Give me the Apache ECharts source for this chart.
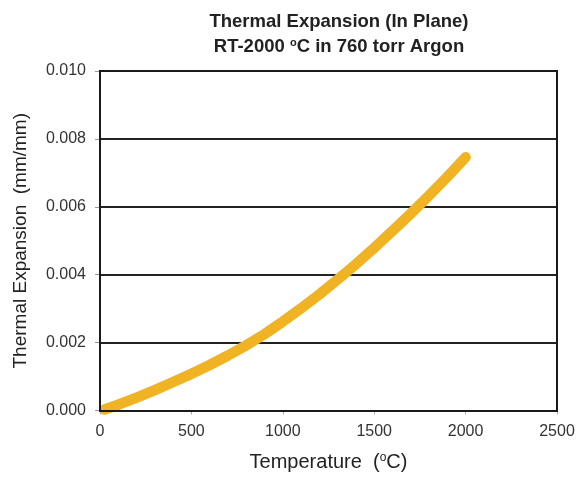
<!DOCTYPE html>
<html><head><meta charset="utf-8">
<script src="https://cdn.jsdelivr.net/npm/echarts@6/dist/echarts.min.js"></script>
<style>html,body{margin:0;padding:0;background:#fff}#c{width:587px;height:477px}</style>
</head><body><div id="c"></div>
<script>
const temps = [25, 100, 200, 300, 400, 500, 600, 700, 800, 900, 1000, 1100, 1200, 1300, 1400, 1500, 1600, 1700, 1800, 1900, 2000];
const expansion = [0.00003, 0.00017, 0.00038, 0.0006, 0.00084, 0.00108, 0.00134, 0.00162, 0.00192, 0.00225, 0.00262, 0.00301, 0.00342, 0.00386, 0.00431, 0.00479, 0.00529, 0.0058, 0.00633, 0.00688, 0.00746];
const titleLine1 = 'Thermal Expansion (In Plane)';
const titleLine2a = 'RT-2000 ';
const titleLine2b = 'C in 760 torr Argon';
const xNameA = 'Temperature  (';
const xNameB = 'C)';
const yName = 'Thermal Expansion  (mm/mm)';

const chart = echarts.init(document.getElementById('c'));
const font = 'Liberation Sans, Arial, sans-serif';
chart.setOption({
  animation: false,
  title: {
    text: '{t|' + titleLine1 + '}\n{t|' + titleLine2a + '}{s|o}{t|' + titleLine2b + '}',
    left: 334, top: 4, textAlign: 'center',
    textStyle: {
      rich: {
        t: {fontFamily: font, fontSize: 18.5, fontWeight: 'bold', color: '#222', lineHeight: 25},
        s: {fontFamily: font, fontSize: 11, fontWeight: 'bold', color: '#222', lineHeight: 25, padding: [0, 0, 7, 0]}
      }
    }
  },
  grid: {left: 100, right: 30, top: 71, bottom: 66},
  xAxis: {
    type: 'value', min: 0, max: 2500, interval: 500,
    name: '{n|' + xNameA + '}{s|o}{n|' + xNameB + '}', nameLocation: 'middle', nameGap: 41,
    nameTextStyle: {rich: {
      n: {fontFamily: font, fontSize: 20, color: '#222'},
      s: {fontFamily: font, fontSize: 12, color: '#222', padding: [0, 0, 9, 0]}
    }},
    axisLine: {show: true, lineStyle: {color: '#1a1a1a', width: 2}},
    axisTick: {show: true, length: 4, lineStyle: {color: '#aaa', width: 1}},
    axisLabel: {fontFamily: font, fontSize: 16, color: '#333', margin: 13, formatter: v => String(v)},
    splitLine: {show: false}
  },
  yAxis: {
    type: 'value', min: 0, max: 0.01, interval: 0.002,
    name: yName, nameLocation: 'middle', nameGap: 70,
    nameTextStyle: {fontFamily: font, fontSize: 19, color: '#222'},
    axisLine: {show: true, lineStyle: {color: '#1a1a1a', width: 2}},
    axisTick: {show: true, length: 5, lineStyle: {color: '#999', width: 1}},
    axisLabel: {fontFamily: font, fontSize: 16, color: '#333', margin: 14, formatter: v => v.toFixed(3)},
    splitLine: {show: true, lineStyle: {color: '#222', width: 2}}
  },
  series: [{
    type: 'line',
    data: temps.map((t, i) => [t, expansion[i]]),
    smooth: false, showSymbol: false,
    lineStyle: {color: '#F0B323', width: 10.5, cap: 'round', join: 'round'},
    clip: true
  }],
  graphic: [{
    type: 'rect', shape: {x: 100, y: 71, width: 457, height: 340},
    style: {fill: 'none', stroke: '#1a1a1a', lineWidth: 2}, z: 100, silent: true
  }]
});
</script></body></html>
